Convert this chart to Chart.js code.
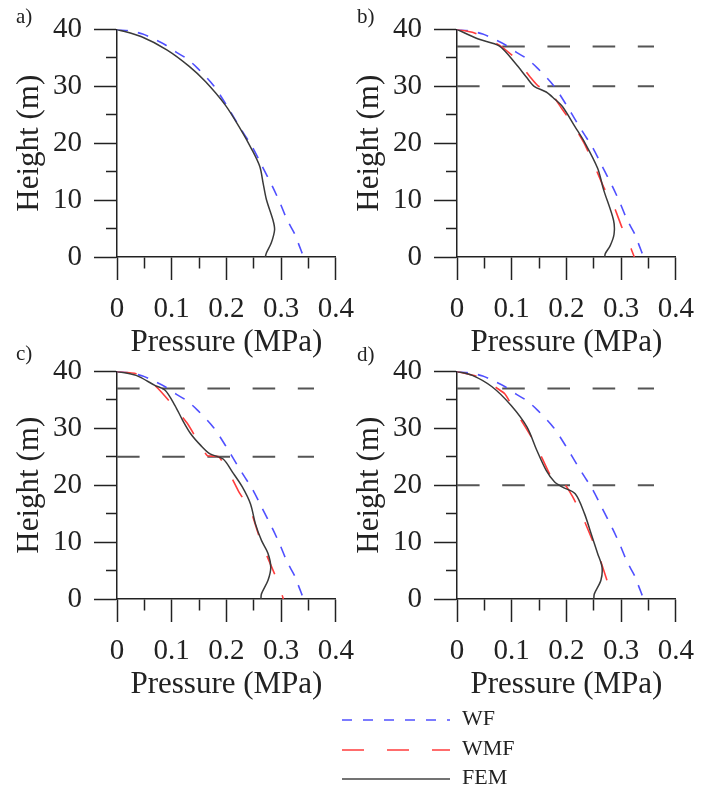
<!DOCTYPE html>
<html>
<head>
<meta charset="utf-8">
<title>Pressure profiles</title>
<script src="https://cdn.jsdelivr.net/npm/chart.js@4.4.1/dist/chart.umd.min.js"></script>
<style>
  body { margin: 0; background: #fff; }
  #wrap { position: relative; width: 706px; height: 790px; font-family: 'Liberation Serif', 'Times New Roman', serif; color: #222; }
  canvas { position: absolute; }
  .tag { position: absolute; font-size: 21px; line-height: 1; }
  #legend { position: absolute; left: 0; top: 700px; }
</style>
</head>
<body>
<div id="wrap">
  <canvas id="chartA" width="366" height="365" style="left:0;top:0"></canvas>
  <canvas id="chartB" width="366" height="365" style="left:340px;top:0"></canvas>
  <canvas id="chartC" width="366" height="365" style="left:0;top:342px"></canvas>
  <canvas id="chartD" width="366" height="365" style="left:340px;top:342px"></canvas>
  <div class="tag" style="left:16px;top:6px">a)</div>
  <div class="tag" style="left:357px;top:6px">b)</div>
  <div class="tag" style="left:16px;top:343px">c)</div>
  <div class="tag" style="left:357px;top:344px">d)</div>
  <svg id="legend" width="706" height="90" font-family="Liberation Serif, Times New Roman, serif" font-size="22" fill="#222">
    <line x1="342" y1="20" x2="450" y2="20" stroke="rgb(80,80,255)" stroke-width="1.6" stroke-dasharray="10 11"></line>
    <line x1="342" y1="50" x2="450" y2="50" stroke="rgb(255,60,60)" stroke-width="1.6" stroke-dasharray="22 23"></line>
    <line x1="342" y1="79" x2="450" y2="79" stroke="#444" stroke-width="1.6"></line>
    <text x="462" y="20" dominant-baseline="middle">WF</text>
    <text x="462" y="50" dominant-baseline="middle">WMF</text>
    <text x="462" y="79" dominant-baseline="middle">FEM</text>
  </svg>
</div>
<script>
// Tick labels
const pressureLabels = ['0', '0.1', '0.2', '0.3', '0.4'];
const heightLabels = ['0', '10', '20', '30', '40'];

// WF (same in every panel)
const wfHeight = [40, 39.8, 39.2, 38.5, 37.3, 36, 34.9, 33.2, 30.2, 26.7, 23.5, 21.2, 19.4, 16.2, 12.4, 9.5, 6.5, 4.2, 2, 0];
const wfPressure = [0, 0.02, 0.047, 0.063, 0.088, 0.108, 0.127, 0.147, 0.176, 0.200, 0.220, 0.235, 0.247, 0.264, 0.284, 0.298, 0.311, 0.324, 0.333, 0.341];

// a)
const femHeightA = [40, 38.7, 36.4, 33.5, 30.8, 26.7, 22.9, 18.8, 15.9, 13, 10.1, 6.5, 4.8, 2.5, 0.7, 0];
const femPressureA = [0, 0.045, 0.091, 0.132, 0.162, 0.198, 0.223, 0.247, 0.261, 0.267, 0.273, 0.285, 0.288, 0.282, 0.273, 0.271];

// b)
const femHeightB = [40, 38.3, 37.1, 34, 31.6, 30, 29, 27.8, 26.4, 23, 20.2, 15.6, 11.8, 6.5, 4, 2, 0.6, 0];
const femPressureB = [0, 0.039, 0.077, 0.107, 0.127, 0.141, 0.163, 0.178, 0.193, 0.215, 0.233, 0.257, 0.268, 0.286, 0.287, 0.280, 0.271, 0.270];
const wmfHeightB = [40, 39.5, 38.9, 37.2, 34.9, 31.6, 30, 30, 26, 23, 19.9, 16.1, 12.3, 9.1, 5.3, 1.5, 0];
const wmfPressureB = [0, 0.028, 0.043, 0.078, 0.107, 0.134, 0.149, 0.163, 0.192, 0.214, 0.233, 0.251, 0.268, 0.286, 0.301, 0.318, 0.324];
const levelsB = [37, 30];

// c)
const femHeightC = [40, 39.3, 37.5, 36.7, 34, 31.4, 29, 27, 25.5, 24.6, 22.3, 19.7, 16.7, 13.2, 10.3, 8, 5.6, 3.3, 0.9, 0];
const femPressureC = [0, 0.035, 0.070, 0.088, 0.106, 0.120, 0.135, 0.153, 0.170, 0.194, 0.211, 0.229, 0.244, 0.253, 0.264, 0.276, 0.281, 0.276, 0.264, 0.263];
const wmfHeightC = [40, 39.6, 38.5, 37, 34.3, 30.8, 27.9, 25.2, 25, 22, 18.8, 15.6, 11.5, 8.5, 4.4, 0.6, 0];
const wmfPressureC = [0, 0.035, 0.058, 0.075, 0.100, 0.129, 0.147, 0.165, 0.186, 0.206, 0.223, 0.244, 0.258, 0.270, 0.288, 0.302, 0.304];
const levelsC = [37, 25];

// d)
const femHeightD = [40, 39.3, 37.3, 34, 30.2, 26.1, 22.6, 20.6, 19.7, 18.5, 15, 11.5, 8, 5.6, 3.3, 0.9, 0];
const femPressureD = [0, 0.028, 0.064, 0.099, 0.128, 0.146, 0.163, 0.178, 0.192, 0.216, 0.233, 0.245, 0.257, 0.265, 0.263, 0.251, 0.250];
const wmfHeightD = [40, 39, 36.1, 33.7, 30.2, 27.3, 22.6, 20, 20, 18.2, 15, 10.9, 7.4, 3.3, 0];
const wmfPressureD = [0, 0.040, 0.087, 0.102, 0.125, 0.143, 0.166, 0.181, 0.198, 0.210, 0.227, 0.245, 0.260, 0.274, 0.286];
const levelsD = [37, 20];

const levelLineEnd = 0.36;

const serif = "'Liberation Serif', 'Times New Roman', serif";
const ink = '#222';
Chart.defaults.font.family = serif;

function toPoints(heights, pressures) {
  return heights.map((h, i) => ({ x: pressures[i], y: h }));
}

function drawPanel(id, femH, femP, wmfH, wmfP, levels) {
  const datasets = [{
    label: 'FEM',
    data: toPoints(femH, femP),
    borderColor: '#3a3a3a',
    borderWidth: 1.5,
    tension: 0.3
  }];
  if (wmfH) {
    datasets.push({
      label: 'WMF',
      data: toPoints(wmfH, wmfP),
      borderColor: 'rgb(255,60,60)',
      borderWidth: 1.6,
      borderDash: [20, 22],
      tension: 0.15
    });
  }
  datasets.push({
    label: 'WF',
    data: toPoints(wfHeight, wfPressure),
    borderColor: 'rgb(80,80,255)',
    borderWidth: 1.6,
    borderDash: [11, 10],
    tension: 0.3
  });
  // layer boundaries
  (levels || []).forEach(h => {
    datasets.push({
      label: 'level',
      data: [{ x: 0, y: h }, { x: levelLineEnd, y: h }],
      borderColor: '#555',
      borderWidth: 2,
      borderDash: [22.6, 22.6]
    });
  });
  datasets.forEach(d => { d.showLine = true; d.pointRadius = 0; });

  new Chart(document.getElementById(id), {
    type: 'scatter',
    data: { datasets },
    options: {
      responsive: false,
      animation: false,
      devicePixelRatio: 1,
      layout: { padding: { left: 0, top: 29, right: 22, bottom: 0 } },
      plugins: { legend: { display: false }, tooltip: { enabled: false } },
      scales: {
        x: {
          type: 'linear',
          min: 0,
          max: 0.4,
          border: { color: ink, width: 1.5 },
          grid: {
            drawOnChartArea: false,
            tickLength: 23,
            tickColor: ink,
            tickWidth: 1.5,
            tickBorderDash: c => c.index % 2 ? [11, 100] : []
          },
          ticks: {
            stepSize: 0.05,
            autoSkip: false,
            maxRotation: 0,
            padding: 12,
            color: ink,
            font: { family: serif, size: 29 },
            callback: (v, i) => i % 2 ? '' : pressureLabels[i / 2]
          },
          title: {
            display: true,
            text: 'Pressure (MPa)',
            color: ink,
            font: { family: serif, size: 31 },
            padding: { top: 0, bottom: 4 }
          },
          afterFit: s => { s.height = 108; }
        },
        y: {
          type: 'linear',
          min: 0,
          max: 40,
          border: { color: ink, width: 1.5 },
          grid: {
            drawOnChartArea: false,
            tickLength: 23,
            tickColor: ink,
            tickWidth: 1.5,
            tickBorderDash: c => c.index % 2 ? [0, 12, 11, 100] : []
          },
          ticks: {
            stepSize: 5,
            autoSkip: false,
            padding: 12,
            color: ink,
            font: { family: serif, size: 29 },
            callback: (v, i) => i % 2 ? '' : heightLabels[i / 2]
          },
          title: {
            display: true,
            text: 'Height (m)',
            color: ink,
            font: { family: serif, size: 31 },
            padding: { top: 11, bottom: 0 }
          },
          afterFit: s => { s.width = 117; }
        }
      }
    }
  });
}

drawPanel('chartA', femHeightA, femPressureA, null, null, null);
drawPanel('chartB', femHeightB, femPressureB, wmfHeightB, wmfPressureB, levelsB);
drawPanel('chartC', femHeightC, femPressureC, wmfHeightC, wmfPressureC, levelsC);
drawPanel('chartD', femHeightD, femPressureD, wmfHeightD, wmfPressureD, levelsD);
</script>
</body>
</html>
